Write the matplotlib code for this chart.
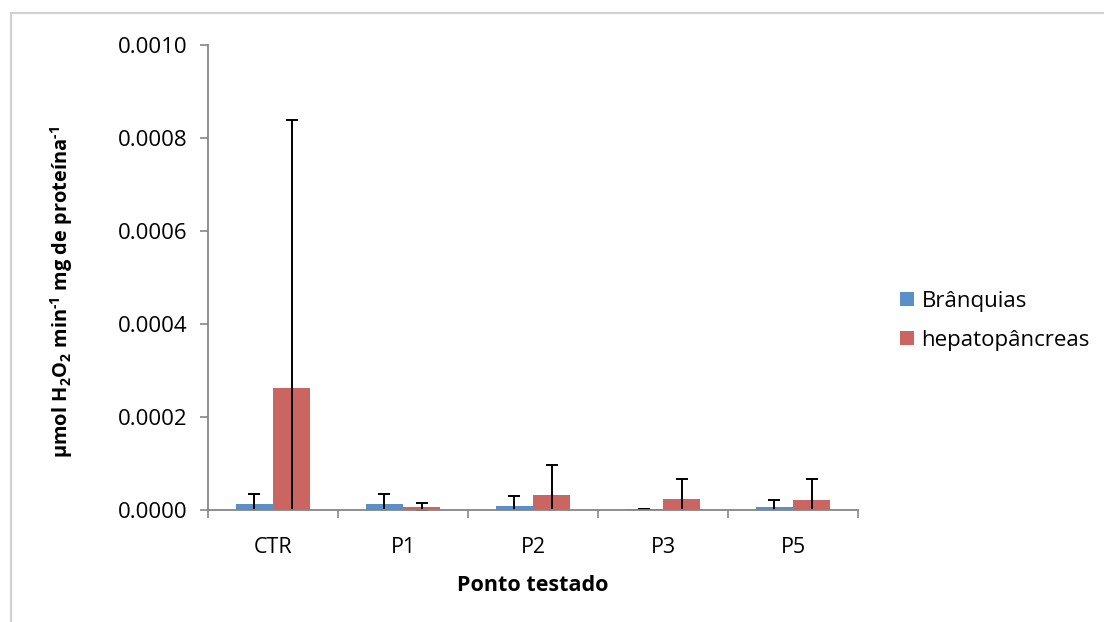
import matplotlib
matplotlib.use("Agg")
import matplotlib.pyplot as plt
from matplotlib.lines import Line2D
import numpy as np

plt.rcParams["font.family"] = ["Open Sans", "DejaVu Sans"]
plt.rcParams["mathtext.fontset"] = "custom"
plt.rcParams["mathtext.rm"] = "Open Sans:bold"
plt.rcParams["mathtext.bf"] = "Open Sans:bold"

# values (mean, standard deviation)
categories = ["CTR", "P1", "P2", "P3", "P5"]
branquias = [0.0000108, 0.0000108, 0.0000086, 0.0000005, 0.0000058]
branquias_err = [0.0000236, 0.0000222, 0.0000209, 0.0, 0.0000157]
hepato = [0.000261, 0.000005, 0.0000316, 0.000023, 0.0000215]
hepato_err = [0.000577, 0.000008, 0.0000638, 0.0000422, 0.0000437]
yticks = [0.0, 0.0002, 0.0004, 0.0006, 0.0008, 0.0010]

BLUE = "#5B8FC8"
RED = "#CB6561"
AXIS_GRAY = "#868686"

fig = plt.figure(figsize=(11.04, 6.22), dpi=100)
ax = fig.add_axes([208 / 1104, 1 - 509.5 / 622, 650 / 1104, 464.5 / 622])

x = np.arange(len(categories))
w = 0.285
err_kw = dict(ecolor="black", elinewidth=1.4, capsize=4.3, capthick=1.4)
# symmetric error bars; the lower halves fall below zero and get clipped
ax.bar(x - w / 2, branquias, w, color=BLUE, label="Brânquias",
       yerr=branquias_err, error_kw=err_kw)
ax.bar(x + w / 2, hepato, w, color=RED, label="hepatopâncreas",
       yerr=hepato_err, error_kw=err_kw)

ax.set_xlim(-0.5, len(categories) - 0.5)
ax.set_ylim(0, 0.0010)
ax.set_yticks(yticks)
ax.set_yticklabels([f"{v:.4f}" for v in yticks])
ax.set_xticks(x)
ax.set_xticklabels(categories)
ax.set_xticks(np.arange(-0.5, len(categories)), minor=True)

for side in ("top", "right"):
    ax.spines[side].set_visible(False)
for side in ("left", "bottom"):
    ax.spines[side].set_color(AXIS_GRAY)
    ax.spines[side].set_linewidth(1.3)

ax.tick_params(axis="y", direction="out", length=5.5, width=1.2,
               color=AXIS_GRAY, labelsize=16, pad=9)
ax.tick_params(axis="x", which="major", length=0, labelsize=15.5, pad=20)
ax.tick_params(axis="x", which="minor", direction="out", length=5.5,
               width=1.2, color=AXIS_GRAY)

ax.set_xlabel("Ponto testado", fontsize=15.5, fontweight="bold")
ax.xaxis.set_label_coords(0.5, -0.14)
ax.set_ylabel(r"μmol H$\mathrm{_2}$O$\mathrm{_2}$ min$^{\text{-1}}$ mg de proteína$^{\text{-1}}$",
              fontsize=14.4, fontweight="bold")
ax.yaxis.set_label_coords(-0.205, 0.468)

ax.legend(loc="center left", bbox_to_anchor=(880 / 1104, 1 - 321 / 622),
          bbox_transform=fig.transFigure, frameon=False, fontsize=16,
          handlelength=0.62, handleheight=0.62, handletextpad=0.35,
          labelspacing=0.8)

# light frame of the chart area (top and left edges only are visible)
fig.add_artist(Line2D([11 / 1104, 1.0], [1 - 13 / 622] * 2,
                      transform=fig.transFigure, color="#D0D0D0", lw=1.5))
fig.add_artist(Line2D([11 / 1104] * 2, [0.0, 1 - 13 / 622],
                      transform=fig.transFigure, color="#D0D0D0", lw=1.5))

fig.savefig("out.png", dpi=100)
